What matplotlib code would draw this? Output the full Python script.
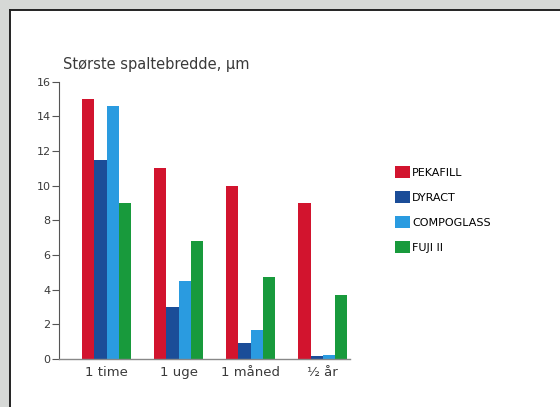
import matplotlib
matplotlib.use("Agg")
import matplotlib.pyplot as plt
import numpy as np
from matplotlib.patches import Rectangle
from matplotlib.lines import Line2D

plt.rcParams['font.family'] = ['DejaVu Sans']

categories = ["1 time", "1 uge", "1 måned", "½ år"]
series_names = ["PEKAFILL", "DYRACT", "COMPOGLASS", "FUJI II"]
pekafill = [15.0, 11.0, 10.0, 9.0]
dyract = [11.5, 3.0, 0.9, 0.2]
compoglass = [14.6, 4.5, 1.7, 0.25]
fuji = [9.0, 6.8, 4.75, 3.7]
yticks = [0, 2, 4, 6, 8, 10, 12, 14, 16]
colors = ["#d2142e", "#1b4d98", "#2a9be0", "#189a3c"]

W, H = 560, 407
fig = plt.figure(figsize=(W/100, H/100), dpi=100, facecolor="#d6d8d6")

# white panel with dark border on top/left
fig.patches.append(Rectangle((10/W, 0), 1, 1 - 10/H, transform=fig.transFigure,
                             facecolor="white", edgecolor="none", zorder=-5))
fig.lines.append(Line2D([10/W, 1], [1 - 10/H, 1 - 10/H], transform=fig.transFigure,
                        color="#222222", lw=1.4, zorder=-4))
fig.lines.append(Line2D([10/W, 10/W], [0, 1 - 10/H], transform=fig.transFigure,
                        color="#222222", lw=1.4, zorder=-4))

ax = fig.add_axes([59/W, 1 - 359/H, (350 - 59)/W, (359 - 81.7)/H])
ax.set_zorder(2)
ax.set_facecolor("none")

x = np.arange(len(categories))
bw = 0.168
data = [pekafill, dyract, compoglass, fuji]
for i, (vals, c, name) in enumerate(zip(data, colors, series_names)):
    ax.bar(x + (i - 1.5) * bw, vals, width=bw, color=c, label=name, zorder=2)

ax.set_xlim(-0.66, 3.38)
ax.set_ylim(0, 16)
ax.set_yticks(yticks)
ax.set_yticklabels([str(v) for v in yticks], fontsize=8, color="#3a3a3a")
ax.set_xticks(x)
ax.set_xticklabels(categories, fontsize=9.5, color="#3a3a3a")
ax.tick_params(axis='x', length=0, pad=5)
ax.tick_params(axis='y', length=5, width=0.8, color="#555555", pad=1)
for s in ["top", "right"]:
    ax.spines[s].set_visible(False)
ax.spines["left"].set_color("#555555")
ax.spines["left"].set_linewidth(0.8)
ax.spines["bottom"].set_color("#888888")
ax.spines["bottom"].set_linewidth(1.0)

fig.text(63/W, 1 - 65/H, "Største spaltebredde, µm", fontsize=10.5,
         color="#3a3a3a", va="center", ha="left")

fig.legend(loc="upper left", bbox_to_anchor=(395/W, 1 - 166/H), frameon=False,
           fontsize=8, handlelength=1.35, handleheight=1.25, labelspacing=1.2,
           handletextpad=0.2, borderpad=0, borderaxespad=0)

fig.savefig("out.png", dpi=100, facecolor=fig.get_facecolor())
